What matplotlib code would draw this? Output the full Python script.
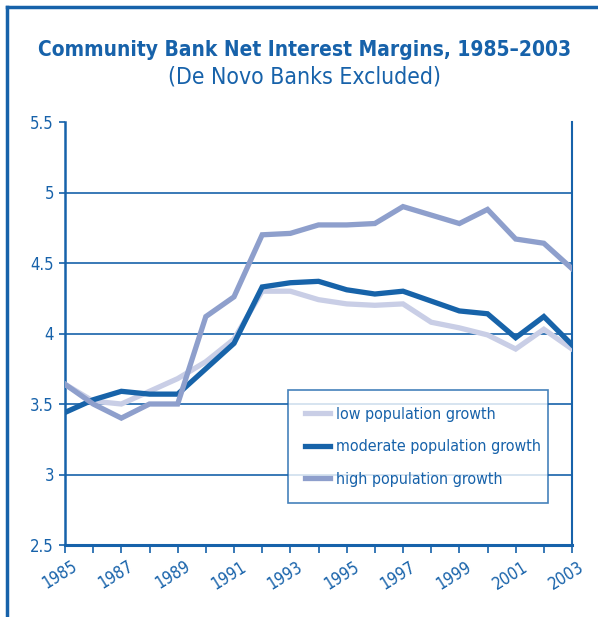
import matplotlib.pyplot as plt
import matplotlib.transforms as mtransforms
from matplotlib.lines import Line2D

years = list(range(1985, 2004))
low_growth = [3.64, 3.52, 3.50, 3.59, 3.68, 3.80, 3.96, 4.30, 4.30, 4.24,
              4.21, 4.20, 4.21, 4.08, 4.04, 3.99, 3.89, 4.03, 3.89]
moderate_growth = [3.44, 3.53, 3.59, 3.57, 3.57, 3.75, 3.93, 4.33, 4.36, 4.37,
                   4.31, 4.28, 4.30, 4.23, 4.16, 4.14, 3.97, 4.12, 3.92]
high_growth = [3.64, 3.50, 3.40, 3.50, 3.50, 4.12, 4.26, 4.70, 4.71, 4.77,
               4.77, 4.78, 4.90, 4.84, 4.78, 4.88, 4.67, 4.64, 4.46]
series_names = ['low population growth', 'moderate population growth',
                'high population growth']
y_ticks = [2.5, 3, 3.5, 4, 4.5, 5, 5.5]
y_labels = ['2.5', '3', '3.5', '4', '4.5', '5', '5.5']

BLUE = '#1762aa'
colors = ['#c9cee6', '#1763a9', '#8e9fcc']

plt.rcParams['font.family'] = ['DejaVu Sans']
plt.rcParams['font.stretch'] = 'condensed'

fig = plt.figure(figsize=(5.98, 6.17), dpi=100)
ax = fig.add_axes([65 / 598, 1 - 545 / 617, (572 - 65) / 598, (545 - 122) / 617])

# page border (left + top)
fig.add_artist(Line2D([7 / 598, 7 / 598], [0, 1 - 7 / 617], color=BLUE, lw=2.5,
                      transform=fig.transFigure))
fig.add_artist(Line2D([7 / 598, 1], [1 - 7 / 617, 1 - 7 / 617], color=BLUE, lw=2.5,
                      transform=fig.transFigure))

fig.text(305 / 598, 1 - 50 / 617, 'Community Bank Net Interest Margins, 1985\u20132003',
         ha='center', va='center', fontsize=15, fontweight='bold', color=BLUE)
fig.text(305 / 598, 1 - 77 / 617, '(De Novo Banks Excluded)',
         ha='center', va='center', fontsize=16.5, color=BLUE)

for yv in [3, 3.5, 4, 4.5, 5]:
    ax.axhline(yv, color=BLUE, lw=1.2, zorder=1)

for vals, name, c in zip([low_growth, moderate_growth, high_growth], series_names, colors):
    ax.plot(years, vals, color=c, lw=3.8, label=name, zorder=3, solid_joinstyle='miter')

ax.set_xlim(1985, 2003)
ax.set_ylim(2.5, 5.5)
ax.set_yticks(y_ticks)
ax.set_yticklabels(y_labels)
ax.set_xticks(years)
ax.set_xticklabels([str(y) if (y - 1985) % 2 == 0 else '' for y in years],
                   rotation=32, ha='right', rotation_mode='anchor')
ax.tick_params(axis='x', colors=BLUE, labelsize=12, length=6, width=1.2, pad=3)
ax.tick_params(axis='y', colors=BLUE, labelsize=12, length=4, width=1.2, pad=4)
offset = mtransforms.ScaledTranslation(6 / 100, 0, fig.dpi_scale_trans)
for lab in ax.get_xticklabels():
    lab.set_transform(lab.get_transform() + offset)
for lab in ax.get_xticklabels() + ax.get_yticklabels():
    lab.set_color(BLUE)

ax.spines['top'].set_visible(False)
ax.spines['left'].set_color(BLUE)
ax.spines['left'].set_linewidth(1.8)
ax.spines['right'].set_color(BLUE)
ax.spines['right'].set_linewidth(1.5)
ax.spines['bottom'].set_color(BLUE)
ax.spines['bottom'].set_linewidth(2.2)

leg = ax.legend(loc='upper left', bbox_to_anchor=((288 - 65) / 507, (545 - 394) / 423,
                                                   (548 - 288) / 507, 0.01),
                mode='expand', borderaxespad=0, fontsize=11.5, frameon=True, fancybox=False,
                handlelength=1.6, handletextpad=0.35, labelspacing=1.1,
                borderpad=1.05, labelcolor=BLUE)
leg.get_frame().set_edgecolor(BLUE)
leg.get_frame().set_linewidth(1.2)
leg.set_zorder(5)

fig.savefig('out.png', dpi=100)
